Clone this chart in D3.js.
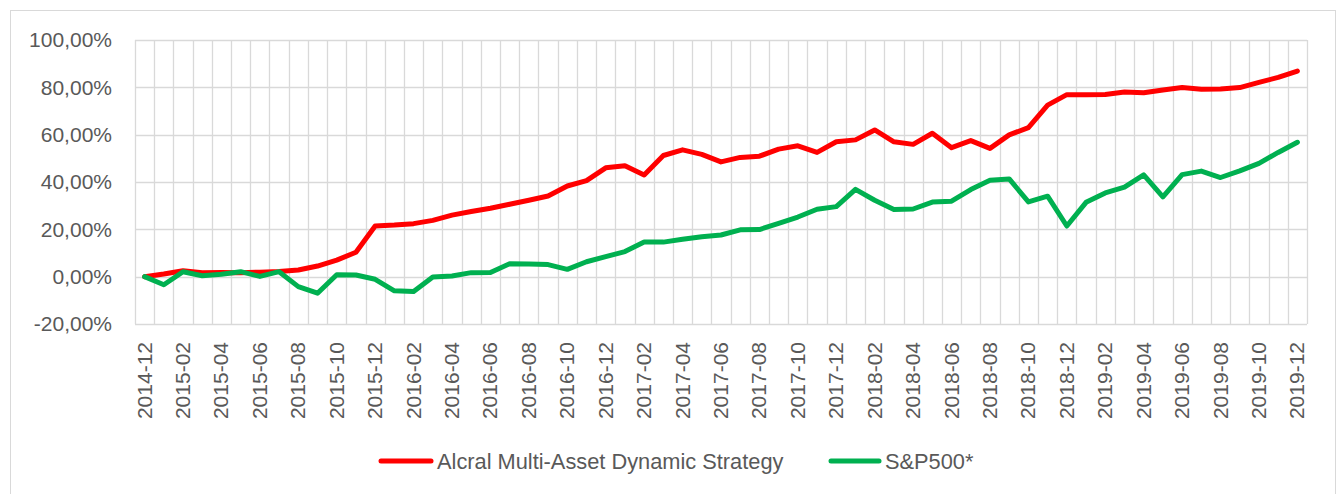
<!DOCTYPE html>
<html>
<head>
<meta charset="utf-8">
<script src="https://cdn.jsdelivr.net/npm/d3@7"></script>
<style>
  html, body { margin: 0; padding: 0; background: #ffffff; }
  svg { display: block; }
  text { font-family: "Liberation Sans", Arial, sans-serif; fill: #595959; }
</style>
</head>
<body>
<svg id="chart" width="1339" height="494"></svg>
<script>
// ---- data ----
const months = [
  "2014-12","2015-01","2015-02","2015-03","2015-04","2015-05","2015-06","2015-07","2015-08","2015-09","2015-10","2015-11",
  "2015-12","2016-01","2016-02","2016-03","2016-04","2016-05","2016-06","2016-07","2016-08","2016-09","2016-10","2016-11",
  "2016-12","2017-01","2017-02","2017-03","2017-04","2017-05","2017-06","2017-07","2017-08","2017-09","2017-10","2017-11",
  "2017-12","2018-01","2018-02","2018-03","2018-04","2018-05","2018-06","2018-07","2018-08","2018-09","2018-10","2018-11",
  "2018-12","2019-01","2019-02","2019-03","2019-04","2019-05","2019-06","2019-07","2019-08","2019-09","2019-10","2019-11",
  "2019-12"
];
const alcral = [
  0.0, 1.1, 2.5, 1.7, 1.8, 1.7, 1.9, 2.2, 2.8, 4.5, 7.0, 10.3,
  21.4, 21.8, 22.4, 23.8, 26.0, 27.5, 28.9, 30.6, 32.3, 34.1, 38.3, 40.6,
  46.0, 46.9, 43.0, 51.2, 53.6, 51.7, 48.5, 50.4, 50.9, 53.9, 55.3, 52.5,
  57.0, 57.8, 62.0, 57.0, 55.9, 60.6, 54.5, 57.5, 54.2, 59.9, 63.0, 72.5,
  76.9, 76.9, 77.0, 78.0, 77.7, 78.9, 79.9, 79.2, 79.3, 79.9, 82.1, 84.2,
  86.9
];
const sp500 = [
  0.0, -3.4, 2.1, 0.4, 1.0, 2.1, 0.1, 2.1, -4.2, -7.0, 0.8, 0.7,
  -1.1, -6.0, -6.3, -0.1, 0.3, 1.7, 1.8, 5.5, 5.4, 5.1, 3.1, 6.3,
  8.5, 10.6, 14.6, 14.6, 15.8, 16.9, 17.6, 19.8, 19.9, 22.5, 25.2, 28.5,
  29.6, 36.9, 32.3, 28.4, 28.6, 31.5, 31.9, 36.8, 40.7, 41.3, 31.6, 34.0,
  21.4, 31.4, 35.4, 37.8, 43.0, 33.7, 43.1, 44.6, 41.9, 44.7, 47.9, 52.5,
  56.8
];
const yTicks = [-20, 0, 20, 40, 60, 80, 100];
const seriesNames = ["Alcral Multi-Asset Dynamic Strategy", "S&P500*"];
const seriesColors = ["#ff0000", "#00b050"];

// ---- layout ----
const W = 1339, H = 494;
const plot = { left: 135, top: 40, right: 1307, bottom: 324 };
const svg = d3.select("#chart");

// outer border
svg.append("rect")
  .attr("x", 10.5).attr("y", 10.5)
  .attr("width", 1325).attr("height", 495)
  .attr("fill", "none").attr("stroke", "#d9d9d9").attr("stroke-width", 1);

const x = d3.scaleBand().domain(months).range([plot.left, plot.right]).padding(0);
const y = d3.scaleLinear().domain([-20, 100]).range([plot.bottom, plot.top]);

const locale = d3.formatLocale({ decimal: ",", thousands: ".", grouping: [3], currency: ["", ""], minus: "-" });
const fmt = locale.format(".2f");

// vertical gridlines at category boundaries
const bounds = months.map(m => x(m)).concat([x(months[months.length - 1]) + x.bandwidth()]);
svg.append("g").selectAll("line").data(bounds).join("line")
  .attr("x1", d => Math.round(d) + 0.5).attr("x2", d => Math.round(d) + 0.5)
  .attr("y1", plot.top).attr("y2", plot.bottom)
  .attr("stroke", "#d9d9d9").attr("stroke-width", 1.3);

// horizontal gridlines
svg.append("g").selectAll("line").data(yTicks).join("line")
  .attr("x1", plot.left).attr("x2", plot.right)
  .attr("y1", d => Math.round(y(d)) + 0.5).attr("y2", d => Math.round(y(d)) + 0.5)
  .attr("stroke", "#d9d9d9").attr("stroke-width", 1.3);

// y axis labels
const yAxis = d3.axisLeft(y).tickValues(yTicks).tickSize(0).tickPadding(0)
  .tickFormat(d => fmt(d) + "%");
const gy = svg.append("g").attr("transform", `translate(${plot.left - 23},0)`).call(yAxis);
gy.select(".domain").remove();
gy.selectAll("text").attr("font-size", 21).attr("fill", "#595959")
  .style("font-family", "'Liberation Sans', Arial, sans-serif");

// x axis labels (every second month)
const xAxis = d3.axisBottom(x).tickValues(months.filter((m, i) => i % 2 === 0)).tickSize(0).tickPadding(0);
const gx = svg.append("g").attr("transform", `translate(0,${plot.bottom})`).call(xAxis);
gx.select(".domain").remove();
gx.selectAll("text")
  .attr("font-size", 21).attr("fill", "#595959")
  .style("font-family", "'Liberation Sans', Arial, sans-serif")
  .attr("text-anchor", "end")
  .attr("dy", null).attr("y", null)
  .attr("transform", "translate(7,18) rotate(-90)");

// lines
const line = d3.line().x((d, i) => x(months[i]) + x.bandwidth() / 2).y(d => y(d));
[alcral, sp500].forEach((s, k) => {
  svg.append("path").datum(s)
    .attr("d", line)
    .attr("fill", "none")
    .attr("stroke", seriesColors[k])
    .attr("stroke-width", 5)
    .attr("stroke-linejoin", "round")
    .attr("stroke-linecap", "round");
});

// legend
const legendItems = [
  { x1: 381, x2: 431, tx: 437 },
  { x1: 831, x2: 879, tx: 885 }
];
const ly = 461;
legendItems.forEach((it, k) => {
  svg.append("line")
    .attr("x1", it.x1).attr("x2", it.x2).attr("y1", ly).attr("y2", ly)
    .attr("stroke", seriesColors[k]).attr("stroke-width", 5).attr("stroke-linecap", "round");
  svg.append("text")
    .attr("x", it.tx).attr("y", ly).attr("dy", "0.35em")
    .attr("font-size", 21.8)
    .text(seriesNames[k]);
});
</script>
</body>
</html>
